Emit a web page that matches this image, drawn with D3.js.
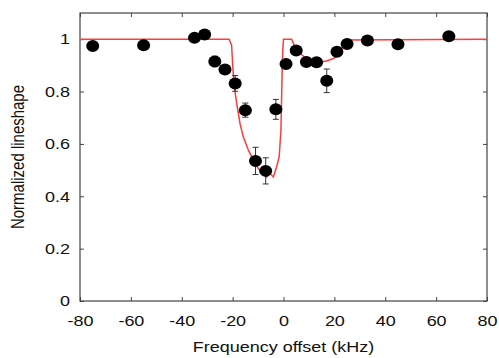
<!DOCTYPE html>
<html>
<head>
<meta charset="utf-8">
<script src="https://cdn.jsdelivr.net/npm/d3@7"></script>
<style>
  body { margin: 0; background: #fff; }
  svg text { font-family: "Liberation Sans", Arial, sans-serif; fill: #111; }
</style>
</head>
<body>
<div id="chart"></div>
<script>
// svg size
var svgWidth = 499;
var svgHeight = 358;

var margin = { top: 13, right: 12, bottom: 57, left: 80 };
var width = svgWidth - margin.left - margin.right;
var height = svgHeight - margin.top - margin.bottom;

// measured points
var freq = [-75, -55, -35, -31, -27, -23, -19, -15, -11, -7, -3, 1, 5, 9, 13, 17, 21, 25, 33, 45, 65];
var shape = [0.974, 0.977, 1.005, 1.018, 0.915, 0.884, 0.831, 0.729, 0.535, 0.497, 0.732, 0.905, 0.957, 0.913, 0.912, 0.841, 0.952, 0.982, 0.995, 0.981, 1.011];
var err = [0.008, 0.008, 0.008, 0.008, 0.02, 0.012, 0.03, 0.027, 0.052, 0.05, 0.038, 0.008, 0.008, 0.008, 0.008, 0.045, 0.008, 0.008, 0.008, 0.015, 0.008];

// fitted curve (red)
var fitX = [-80, -21.4, -20.4, -20, -19.5, -18.4, -17.1, -15.8, -13.8, -11.9, -9.9, -7.9, -6.6, -5.3, -4, -2.7, -1.7, -1, -0.6, -0.3, 0, 3.2, 4.5, 6.5, 9.1, 11.7, 14.3, 16.9, 19.6, 21.5, 22.8, 23.5, 24.2, 80];
var fitY = [1, 1, 0.977, 0.907, 0.83, 0.755, 0.678, 0.627, 0.576, 0.538, 0.506, 0.487, 0.474, 0.487, 0.474, 0.513, 0.551, 0.653, 0.844, 0.958, 1, 1, 0.97, 0.945, 0.926, 0.917, 0.913, 0.917, 0.926, 0.939, 0.958, 0.983, 0.997, 1];

var xTicks = [-80, -60, -40, -20, 0, 20, 40, 60, 80];
var yTicks = [0, 0.2, 0.4, 0.6, 0.8, 1];

// the original picture is stretched sideways a bit, text too
var stretch = "scale(1.2,1)";

var svg = d3.select("#chart")
  .append("svg")
  .attr("width", svgWidth)
  .attr("height", svgHeight);

var chartGroup = svg.append("g")
  .attr("transform", `translate(${margin.left}, ${margin.top})`);

var xScale = d3.scaleLinear().domain([-80, 80]).range([0, width]);
var yScale = d3.scaleLinear().domain([0, 1.1]).range([height, 0]);

// axes, ticks pointing inward
var bottomAxis = d3.axisBottom(xScale).tickValues(xTicks).tickSize(-4).tickPadding(14).tickFormat(d => String(d));
var topAxis = d3.axisTop(xScale).tickValues(xTicks).tickSize(-4).tickFormat("");
var leftAxis = d3.axisLeft(yScale).tickValues(yTicks).tickSize(-4).tickPadding(10).tickFormat(d => String(d));
var rightAxis = d3.axisRight(yScale).tickValues(yTicks).tickSize(-4).tickFormat("");

function styleAxis(g) {
  g.select(".domain").remove();
  g.selectAll(".tick line").attr("stroke", "#444");
  g.selectAll(".tick text").attr("font-size", 15).style("font-family", "Liberation Sans, Arial, sans-serif").attr("fill", "#111");
}

var xAxis = chartGroup.append("g").attr("transform", `translate(0, ${height})`).call(bottomAxis).call(styleAxis);
chartGroup.append("g").call(topAxis).call(styleAxis);
var yAxis = chartGroup.append("g").call(leftAxis).call(styleAxis);
chartGroup.append("g").attr("transform", `translate(${width}, 0)`).call(rightAxis).call(styleAxis);

xAxis.selectAll(".tick text").attr("transform", stretch);
yAxis.selectAll(".tick text")
  .attr("x", 0)
  .attr("transform", "translate(-10,0) " + stretch);

// frame
chartGroup.append("rect")
  .attr("width", width)
  .attr("height", height)
  .attr("fill", "none")
  .attr("stroke", "#444")
  .attr("stroke-width", 1.2);

// fit line
var line = d3.line()
  .x((d, i) => xScale(fitX[i]))
  .y((d, i) => yScale(fitY[i]));

chartGroup.append("path")
  .datum(fitX)
  .attr("d", line)
  .attr("fill", "none")
  .attr("stroke", "#ff3b3b")
  .attr("stroke-width", 1.5);

// error bars
var bars = chartGroup.selectAll(".err")
  .data(freq)
  .enter()
  .append("g")
  .attr("stroke", "#333")
  .attr("stroke-width", 1);

bars.append("line")
  .attr("x1", d => xScale(d))
  .attr("x2", d => xScale(d))
  .attr("y1", (d, i) => yScale(shape[i] - err[i]))
  .attr("y2", (d, i) => yScale(shape[i] + err[i]));
bars.append("line")
  .attr("x1", d => xScale(d) - 3)
  .attr("x2", d => xScale(d) + 3)
  .attr("y1", (d, i) => yScale(shape[i] - err[i]))
  .attr("y2", (d, i) => yScale(shape[i] - err[i]));
bars.append("line")
  .attr("x1", d => xScale(d) - 3)
  .attr("x2", d => xScale(d) + 3)
  .attr("y1", (d, i) => yScale(shape[i] + err[i]))
  .attr("y2", (d, i) => yScale(shape[i] + err[i]));

// points
chartGroup.selectAll("ellipse")
  .data(freq)
  .enter()
  .append("ellipse")
  .attr("cx", d => xScale(d))
  .attr("cy", (d, i) => yScale(shape[i]))
  .attr("rx", 6.5)
  .attr("ry", 6)
  .attr("fill", "#000");

// axis labels
svg.append("text")
  .attr("transform", `translate(${margin.left + width / 2}, 352) ${stretch}`)
  .attr("text-anchor", "middle")
  .attr("font-size", 15)
  .text("Frequency offset (kHz)");

svg.append("text")
  .attr("transform", `translate(24, ${margin.top + height / 2}) rotate(-90) scale(1,1.2)`)
  .attr("text-anchor", "middle")
  .attr("font-size", 15)
  .text("Normalized lineshape");
</script>
</body>
</html>
